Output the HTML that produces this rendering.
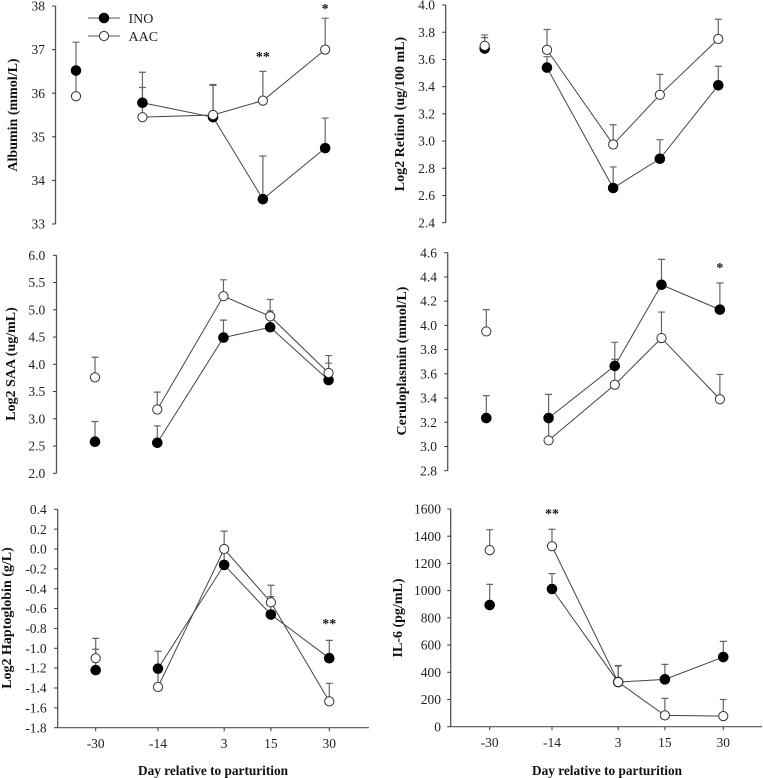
<!DOCTYPE html>
<html lang="en">
<head>
<meta charset="utf-8">
<title>Inflammatory markers relative to parturition</title>
<style>
html,body{margin:0;padding:0;background:#fff;width:763px;height:778px;overflow:hidden}
svg{display:block;font-family:"Liberation Serif",serif}
</style>
</head>
<body>
<svg id="chart" xmlns="http://www.w3.org/2000/svg" width="763" height="778" viewBox="0 0 763 778">
  <g>
    <line x1="88" y1="18" x2="120" y2="18" stroke="#555" stroke-width="1"></line>
    <circle cx="104" cy="18" r="4.8" fill="#000" stroke="#000"></circle>
    <text x="128.5" y="23" font-size="14" fill="#222">INO</text>
    <line x1="88" y1="36" x2="120" y2="36" stroke="#555" stroke-width="1"></line>
    <circle cx="104" cy="36" r="4.6" fill="#fff" stroke="#333"></circle>
    <text x="128.5" y="41" font-size="14" fill="#222">AAC</text>
  </g>
</svg>
<script>
var days = [-30, -14, 3, 15, 30];
var dayLabels = ["-30", "-14", "3", "15", "30"];

var albuminTicks = ["33", "34", "35", "36", "37", "38"];
var albuminIno = [36.52, 35.78, 35.45, 33.57, 34.74];
var albuminInoTop = [37.17, 36.48, 36.18, 34.56, 35.43];
var albuminAac = [35.93, 35.45, 35.5, 35.83, 37.0];
var albuminAacTop = [36.5, 36.13, 36.2, 36.5, 37.72];

var retinolTicks = ["2.4", "2.6", "2.8", "3.0", "3.2", "3.4", "3.6", "3.8", "4.0"];
var retinolIno = [3.68, 3.54, 2.655, 2.87, 3.41];
var retinolInoTop = [3.76, 3.62, 2.81, 3.01, 3.55];
var retinolAac = [3.7, 3.67, 2.975, 3.34, 3.75];
var retinolAacTop = [3.78, 3.82, 3.12, 3.49, 3.895];

var saaTicks = ["2.0", "2.5", "3.0", "3.5", "4.0", "4.5", "5.0", "5.5", "6.0"];
var saaIno = [2.58, 2.56, 4.49, 4.68, 3.71];
var saaInoTop = [2.95, 2.87, 4.81, 4.98, 4.02];
var saaAac = [3.76, 3.17, 5.25, 4.88, 3.84];
var saaAacTop = [4.13, 3.49, 5.55, 5.19, 4.16];

var ceruloTicks = ["2.8", "3.0", "3.2", "3.4", "3.6", "3.8", "4.0", "4.2", "4.4", "4.6"];
var ceruloIno = [3.235, 3.235, 3.665, 4.335, 4.13];
var ceruloInoTop = [3.42, 3.43, 3.86, 4.545, 4.35];
var ceruloAac = [3.95, 3.05, 3.51, 3.895, 3.39];
var ceruloAacTop = [4.13, 3.22, 3.72, 4.11, 3.595];

var haptoTicks = ["-1.8", "-1.6", "-1.4", "-1.2", "-1.0", "-0.8", "-0.6", "-0.4", "-0.2", "0.0", "0.2", "0.4"];
var haptoIno = [-1.22, -1.205, -0.16, -0.66, -1.1];
var haptoInoTop = [-1.01, -1.03, 0.0, -0.48, -0.92];
var haptoAac = [-1.1, -1.39, 0.0, -0.537, -1.535];
var haptoAacTop = [-0.9, -1.22, 0.18, -0.365, -1.353];

var il6Ticks = ["0", "200", "400", "600", "800", "1000", "1200", "1400", "1600"];
var il6Ino = [894, 1012, 328, 348, 512];
var il6InoTop = [1046, 1125, 446, 458, 627];
var il6Aac = [1298, 1326, 328, 83, 78];
var il6AacTop = [1448, 1451, 450, 208, 200];

var panels = [
  {key:"albumin", title:"Albumin (mmol/L)", ticks:albuminTicks, ino:albuminIno, inoTop:albuminInoTop, aac:albuminAac, aacTop:albuminAacTop,
   axisX:55.5, top:6, bottom:224, first:76, dayPx:4.153, labelX:45, titleX:17, titleY:115, stars:[[15,"**",57],[30,"*",9]], xAxis:false},
  {key:"retinol", title:"Log2 Retinol (ug/100 mL)", ticks:retinolTicks, ino:retinolIno, inoTop:retinolInoTop, aac:retinolAac, aacTop:retinolAacTop,
   axisX:445.7, top:5, bottom:222.7, first:484.7, dayPx:3.893, labelX:435, titleX:404, titleY:114, stars:[], xAxis:false},
  {key:"saa", title:"Log2 SAA (ug/mL)", ticks:saaTicks, ino:saaIno, inoTop:saaInoTop, aac:saaAac, aacTop:saaAacTop,
   axisX:56.5, top:255.3, bottom:473.3, first:95, dayPx:3.893, labelX:45.3, titleX:15, titleY:364, stars:[], xAxis:false},
  {key:"ceruloplasmin", title:"Ceruloplasmin (mmol/L)", ticks:ceruloTicks, ino:ceruloIno, inoTop:ceruloInoTop, aac:ceruloAac, aacTop:ceruloAacTop,
   axisX:447.7, top:252.7, bottom:470.7, first:486.3, dayPx:3.893, labelX:437, titleX:406, titleY:361, stars:[[30,"*",268]], xAxis:false},
  {key:"haptoglobin", title:"Log2 Haptoglobin (g/L)", ticks:haptoTicks, ino:haptoIno, inoTop:haptoInoTop, aac:haptoAac, aacTop:haptoAacTop,
   axisX:57.7, top:509.3, bottom:727.7, first:95.7, dayPx:3.893, labelX:46.7, titleX:11, titleY:618, stars:[[30,"**",624]], xAxis:true, axisEnd:369, xTitleX:213},
  {key:"il6", title:"IL-6 (pg/mL)", ticks:il6Ticks, ino:il6Ino, inoTop:il6InoTop, aac:il6Aac, aacTop:il6AacTop,
   axisX:450.7, top:509, bottom:726.7, first:489.7, dayPx:3.893, labelX:441, titleX:402, titleY:618, stars:[[-14,"**",514]], xAxis:true, axisEnd:762, xTitleX:607}
];

var NS = "http://www.w3.org/2000/svg";
var svg = document.getElementById("chart");
var legendNode = svg.firstElementChild;

function make(parent, tag, attrs, text) {
  var el = document.createElementNS(NS, tag);
  for (var k in attrs) { el.setAttribute(k, attrs[k]); }
  if (text !== undefined) { el.textContent = text; }
  parent.appendChild(el);
  return el;
}

function drawErrorBars(g, xs, ys, values, tops, seriesName) {
  for (var i = 0; i < days.length; i++) {
    var x = xs(days[i]);
    var yTop = ys(tops[i]);
    var yVal = ys(values[i]);
    var el = make(g, "path", {d:"M" + x + " " + yVal + "V" + yTop + "M" + (x - 3.5) + " " + yTop + "H" + (x + 3.5), fill:"none", stroke:"#666", "stroke-width":1.2});
    
    
  }
}

function drawSeries(g, xs, ys, values, isIno, seriesName) {
  var i, el;
  var pts = [];
  for (i = 1; i < days.length; i++) { pts.push(xs(days[i]) + "," + ys(values[i])); }
  el = make(g, "polyline", {points:pts.join(" "), fill:"none", stroke:"#444", "stroke-width":1});
  
  
  for (i = 0; i < days.length; i++) {
    el = make(g, "circle", {cx:xs(days[i]), cy:ys(values[i]), r:isIno ? 4.8 : 4.6, fill:isIno ? "#000" : "#fff", stroke:isIno ? "#000" : "#333", "stroke-width":1});
    
    
  }
}

panels.forEach(function (p) {
  var tickVals = p.ticks.map(parseFloat);
  var minV = tickVals[0];
  var maxV = tickVals[tickVals.length - 1];
  var ys = function (v) { return p.bottom - (v - minV) / (maxV - minV) * (p.bottom - p.top); };
  var xs = function (d) { return p.first + (d + 30) * p.dayPx; };

  var g = make(svg, "g", {});
  
  
  svg.insertBefore(g, legendNode);

  var el = make(g, "line", {x1:p.axisX, y1:p.top, x2:p.axisX, y2:p.bottom, stroke:"#555", "stroke-width":1.3});
  
  

  p.ticks.forEach(function (label) {
    var y = ys(parseFloat(label));
    var tick = make(g, "line", {x1:p.axisX - 3.5, y1:y, x2:p.axisX, y2:y, stroke:"#333", "stroke-width":1});
    
    
    var tl = make(g, "text", {x:p.labelX, y:y + 4.6, "text-anchor":"end", "font-size":13.5, fill:"#222"}, label);
    
    
  });

  var title = make(g, "text", {transform:"translate(" + p.titleX + " " + p.titleY + ") rotate(-90)", "text-anchor":"middle", "font-size":14, "font-weight":"bold", fill:"#111"}, p.title);
  
  

  if (p.xAxis) {
    var ax = make(g, "line", {x1:p.axisX, y1:p.bottom, x2:p.axisEnd, y2:p.bottom, stroke:"#555", "stroke-width":1.2});
    
    
    days.forEach(function (d, i) {
      var xt = make(g, "line", {x1:xs(d), y1:p.bottom, x2:xs(d), y2:p.bottom + 3.5, stroke:"#333", "stroke-width":1});
      
      
      var xl = make(g, "text", {x:xs(d), y:p.bottom + 20.5, "text-anchor":"middle", "font-size":13.5, fill:"#222"}, dayLabels[i]);
      
      
    });
    var xTitle = make(g, "text", {x:p.xTitleX, y:775, "text-anchor":"middle", "font-size":13.3, "font-weight":"bold", fill:"#111"}, "Day relative to parturition");
    
    
  }

  drawErrorBars(g, xs, ys, p.ino, p.inoTop, p.key + "-ino");
  drawErrorBars(g, xs, ys, p.aac, p.aacTop, p.key + "-aac");
  drawSeries(g, xs, ys, p.ino, true, p.key + "-ino");
  drawSeries(g, xs, ys, p.aac, false, p.key + "-aac");

  p.stars.forEach(function (s) {
    var st = make(g, "text", {x:xs(s[0]), y:s[2] + 4, "text-anchor":"middle", "font-size":14, "font-weight":"bold", fill:"#111"}, s[1]);
    
    
  });
});
</script>
</body>
</html>
